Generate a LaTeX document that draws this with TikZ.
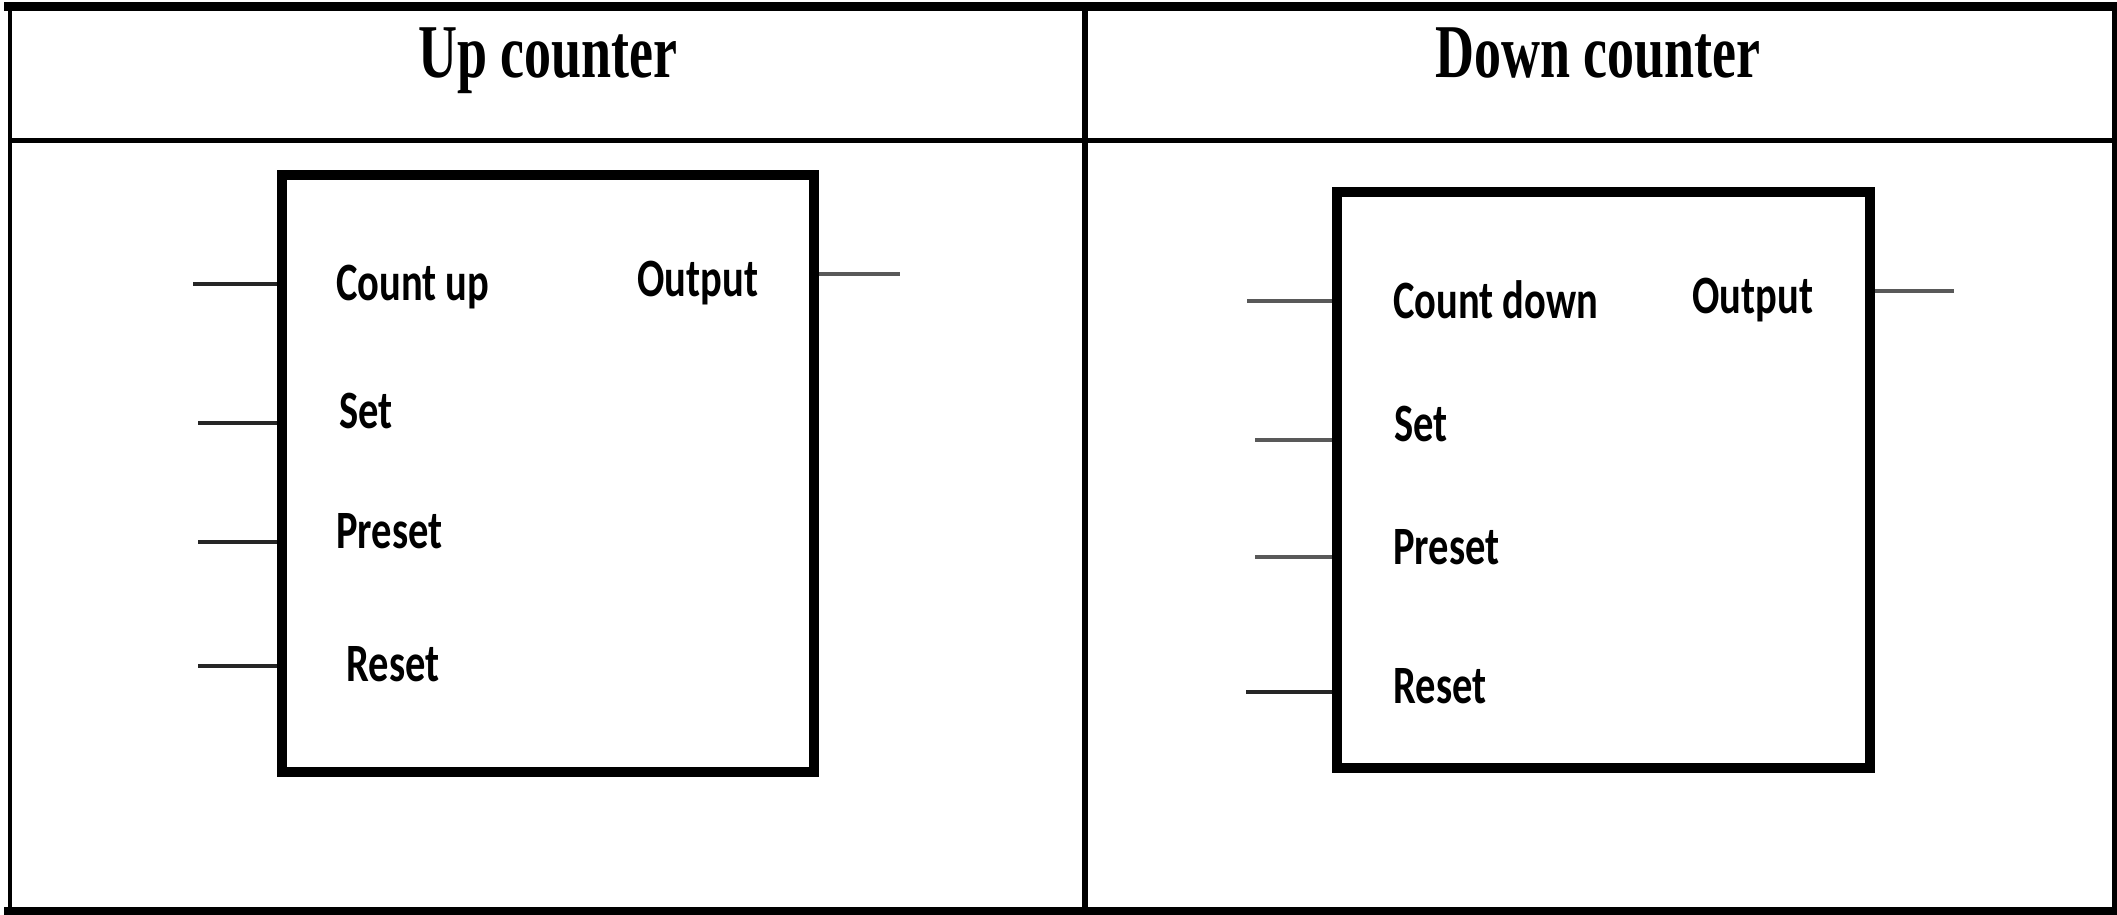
\documentclass[tikz,border=0pt]{standalone}
\usepackage{fontspec}
\setmainfont{Liberation Serif}
\newfontfamily\headfont[FakeStretch=0.71]{Liberation Serif}
\newfontfamily\pinfont[FakeStretch=0.75]{Carlito}
\begin{document}
\begin{tikzpicture}[x=0.5pt,y=-0.5pt,
  rule/.style={draw=black,line cap=rect},
  head/.style={anchor=base,inner sep=0pt,font=\headfont\bfseries\fontsize{38}{40}\selectfont},
  pin/.style={anchor=base west,inner sep=0pt,font=\pinfont\bfseries\fontsize{27}{30}\selectfont},
  ctrbox/.style={draw=black,line width=5pt,fill=white,inner sep=0pt},
  wire/.style={draw=black!85,line width=2pt},
  outwire/.style={draw=black!65,line width=2pt}]
\useasboundingbox (0,0) rectangle (2117,915);

% table frame
\draw[rule,line width=4.5pt] (8,6.5) -- (2117,6.5);
\draw[rule,line width=4pt] (8,911) -- (2117,911);
\draw[rule,line width=2pt] (10,7) -- (10,911);
\draw[rule,line width=2.5pt] (2114.5,7) -- (2114.5,911);
\draw[rule,line width=2.5pt] (10,141) -- (2114,141);
\draw[rule,line width=3pt] (1085,7) -- (1085,911);

% column headings
\node[head] (hup) at (548,78) {Up counter};
\node[head] (hdown) at (1598,78) {Down counter};

% up counter block
\node[ctrbox,minimum width=266pt,minimum height=298.5pt] (up) at (548,473.5) {};
\node[pin] (upcu) at (336,300) {Count up};
\node[pin] (upout) at (637,296) {Output};
\node[pin] (upset) at (339,428) {Set};
\node[pin] (uppre) at (336,548) {Preset};
\node[pin] (upres) at (346,681) {Reset};
\coordinate (ua) at (193,284);
\coordinate (ub) at (198,423);
\coordinate (uc) at (198,542);
\coordinate (ud) at (198,666);
\coordinate (uo) at (900,274);
\draw[wire] (ua) -- (ua -| up.west);
\draw[wire] (ub) -- (ub -| up.west);
\draw[wire] (uc) -- (uc -| up.west);
\draw[wire] (ud) -- (ud -| up.west);
\draw[outwire] (uo -| up.east) -- (uo);

% down counter block
\node[ctrbox,minimum width=266.5pt,minimum height=288pt] (down) at (1603.5,480) {};
\node[pin] (dncd) at (1393,318) {Count down};
\node[pin] (dnout) at (1692,314) {Output};
\node[pin] (dnset) at (1394,441.6) {Set};
\node[pin] (dnpre) at (1393,564) {Preset};
\node[pin] (dnres) at (1393,703) {Reset};
\coordinate (da) at (1247,301);
\coordinate (db) at (1255,440);
\coordinate (dc) at (1255,557);
\coordinate (dd) at (1246,692);
\coordinate (do) at (1954,291);
\draw[outwire] (da) -- (da -| down.west);
\draw[outwire] (db) -- (db -| down.west);
\draw[outwire] (dc) -- (dc -| down.west);
\draw[wire] (dd) -- (dd -| down.west);
\draw[outwire] (do -| down.east) -- (do);
\end{tikzpicture}
\end{document}
